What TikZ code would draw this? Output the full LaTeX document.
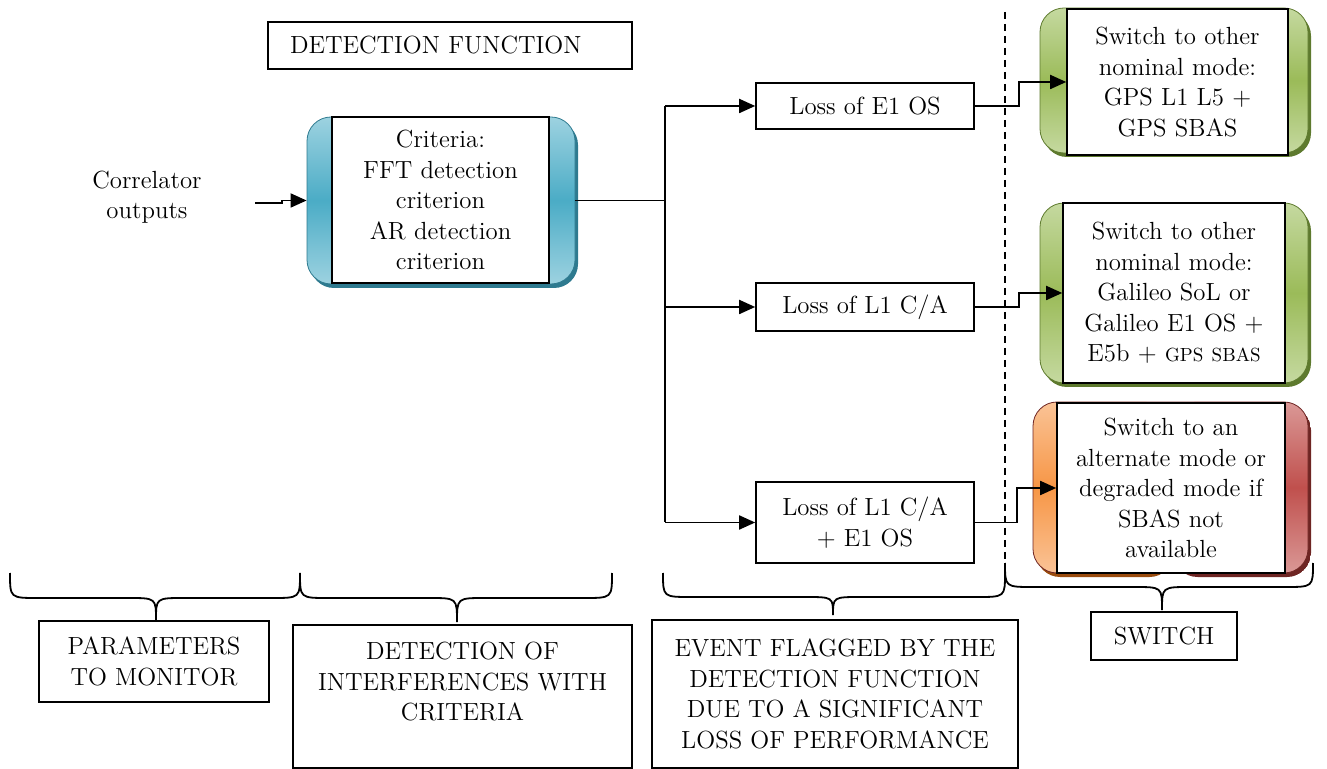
\documentclass[tikz,border=0pt]{standalone}
\usetikzlibrary{arrows.meta}
\definecolor{blmid}{HTML}{4BACC6}
\definecolor{bllt}{HTML}{9DD2E0}
\definecolor{bldk}{HTML}{2E7A8F}
\definecolor{grmid}{HTML}{9BBB59}
\definecolor{grlt}{HTML}{C5D9A0}
\definecolor{grdk}{HTML}{5E7A2E}
\definecolor{ormid}{HTML}{F79646}
\definecolor{orlt}{HTML}{FAC396}
\definecolor{ordk}{HTML}{9A4C0E}
\definecolor{rdmid}{HTML}{C0504D}
\definecolor{rdlt}{HTML}{DA9896}
\definecolor{rddk}{HTML}{6E2523}
\begin{document}
\begin{tikzpicture}[x=0.5pt,y=-0.5pt,
    font=\fontsize{12.4}{15.2}\selectfont,
    box/.style={draw,line width=0.8pt,fill=white,align=center,inner sep=2pt},
    bgbox/.style={rounded corners=12pt,draw=#1dk,line width=0.4pt,
      top color=#1lt,bottom color=#1lt,middle color=#1mid,
      preaction={fill=#1dk,transform canvas={shift={(1.5pt,-2pt)}}}},
    wire/.style={line width=0.9pt},
    arr/.style={wire,-{Triangle[length=8pt,width=7pt]}}]
    \useasboundingbox (0,0) rectangle (1327,769);

    % detection function
    \node[box,align=left,text width=160pt,inner xsep=11pt,minimum height=23.5pt] (fn) at (450,45.5) {DETECTION FUNCTION};
    \node[align=center] (corr) at (147,197) {Correlator\\outputs};
    \coordinate (in) at (255,203);
    \node[bgbox=bl,minimum width=134pt,minimum height=83.5pt] (critbg) at (441,200.5) {};
    \node[box,text width=104pt,minimum width=108.5pt,minimum height=83pt] (crit) at (440.5,200)
      {Criteria:\\FFT detection\\criterion\\AR detection\\criterion};
    \draw[arr] (in) -- ++(27,0) |- (critbg.west);

    % events
    \node[box,minimum width=109pt,minimum height=23pt] (e1) at (865,106) {Loss of E1 OS};
    \node[box,minimum width=109pt,minimum height=24pt] (l1) at (865,307) {Loss of L1 C/A};
    \node[box,minimum width=109pt,minimum height=40.5pt] (both) at (865,522.5) {Loss of L1 C/A\\+ E1 OS};
    \coordinate (fork) at (665,200.5);
    \draw[wire] (critbg.east) -- (fork);
    \draw[wire] (fork |- e1) -- (fork |- both);
    \draw[arr] (fork |- e1) -- (e1.west);
    \draw[arr] (fork |- l1) -- (l1.west);
    \draw[arr] (fork |- both) -- (both.west);

    % switch
    \coordinate (dtop) at (1005,12);
    \coordinate (dbot) at (1005,563);
    \draw[line width=0.6pt,dash pattern=on 3.5pt off 2.5pt] (dtop) -- (dbot);
    \node[bgbox=gr,minimum width=134pt,minimum height=72.5pt] (g1bg) at (1174,80.5) {};
    \node[box,text width=106pt,minimum width=110.5pt,minimum height=73pt] (g1) at (1177.5,82)
      {Switch to other\\nominal mode:\\GPS L1 L5 +\\GPS SBAS};
    \node[bgbox=gr,minimum width=134pt,minimum height=90pt] (g2bg) at (1174,293) {};
    \node[box,text width=107pt,minimum width=111pt,minimum height=90pt] (g2) at (1174,293)
      {Switch to other\\nominal mode:\\Galileo SoL or\\Galileo E1 OS +\\E5b + {\fontsize{9.5}{12}\selectfont GPS SBAS}};
    \node[rounded corners=12pt,draw=rddk,line width=0.4pt,minimum width=137.5pt,minimum height=85.5pt,
      preaction={transform canvas={shift={(1.5pt,-2pt)}},path picture={
        \fill[ordk] (path picture bounding box.north west) rectangle (path picture bounding box.south);
        \fill[rddk] (path picture bounding box.north) rectangle (path picture bounding box.south east);}},
      path picture={
        \shade[top color=orlt,bottom color=orlt,middle color=ormid]
          (path picture bounding box.north west) rectangle (path picture bounding box.south);
        \shade[top color=rdlt,bottom color=rdlt,middle color=rdmid]
          (path picture bounding box.north) rectangle (path picture bounding box.south east);}]
      (altbg) at (1170.5,487.5) {};
    \node[box,text width=110pt,minimum width=114pt,minimum height=85pt] (alt) at (1171,488)
      {Switch to an\\alternate mode or\\degraded mode if\\SBAS not\\available};
    \draw[arr] (e1.east) -- ++(44,0) |- (g1.west);
    \draw[arr] (l1.east) -- ++(44,0) |- (g2.west);
    \draw[arr] (both.east) -- ++(42,0) |- (alt.west);

    % braces and captions
    \foreach \xa/\xm/\xb/\ya/\yb/\yc in {10/156/300/573/598/620,300/457/612/573/598/622,
        663/833/1005/573/597/615,1005/1162/1313/563/587/610}
      \draw[wire] (\xa,\ya) .. controls (\xa,\yb) .. (\xa+28,\yb) -- (\xm-28,\yb)
        .. controls (\xm,\yb) .. (\xm,\yc) .. controls (\xm,\yb) .. (\xm+28,\yb)
        -- (\xb-28,\yb) .. controls (\xb,\yb) .. (\xb,\ya);
    \node[box,minimum width=115pt,minimum height=40.5pt] (par) at (154,661.5) {PARAMETERS\\TO MONITOR};
    \node[box,minimum width=169.5pt,minimum height=71.5pt] (det) at (462.5,696.5)
      {DETECTION OF\\INTERFERENCES WITH\\CRITERIA\\~};
    \node[box,minimum width=183pt,minimum height=74pt] (ev) at (835,694)
      {EVENT FLAGGED BY THE\\DETECTION FUNCTION\\DUE TO A SIGNIFICANT\\LOSS OF PERFORMANCE};
    \node[box,minimum width=73pt,minimum height=24pt] (sw) at (1164,636) {SWITCH};
\end{tikzpicture}
\end{document}
